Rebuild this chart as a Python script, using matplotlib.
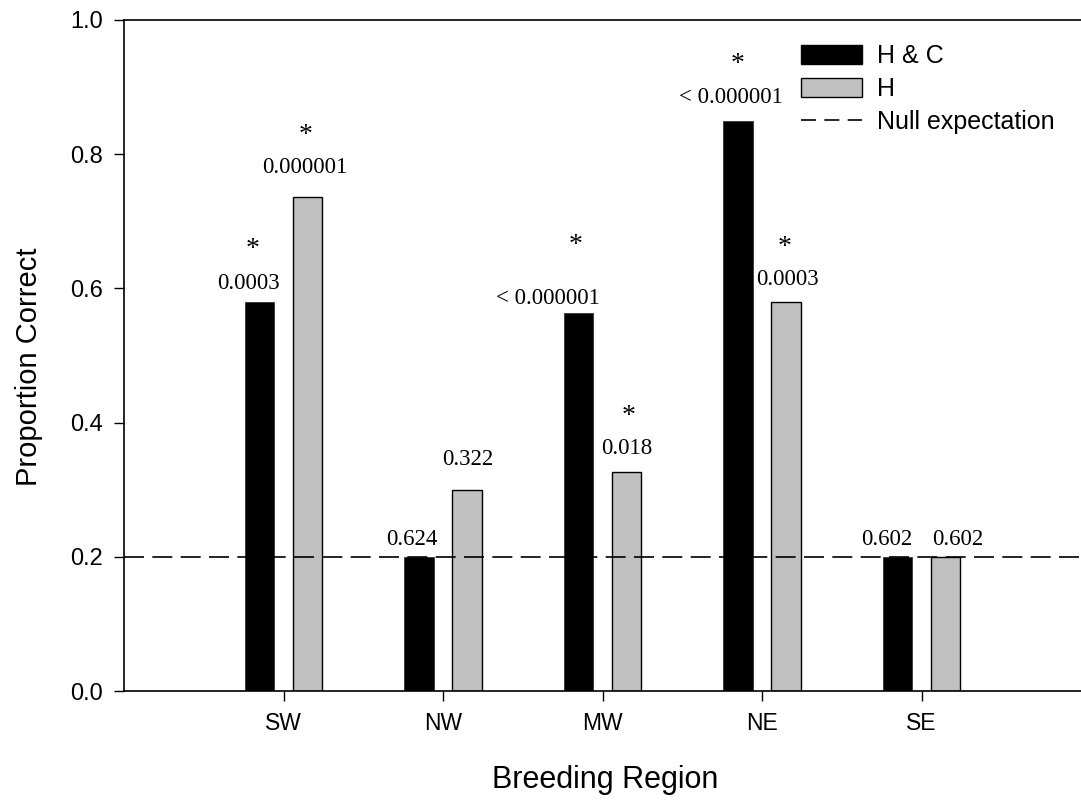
import matplotlib
matplotlib.use("Agg")
import matplotlib.pyplot as plt
import numpy as np
from matplotlib.patches import Patch
from matplotlib.lines import Line2D

regions = ["SW", "NW", "MW", "NE", "SE"]
hc_values = [0.58, 0.20, 0.563, 0.85, 0.20]
h_values = [0.736, 0.30, 0.326, 0.58, 0.20]
hc_pvals = ["0.0003", "0.624", "< 0.000001", "< 0.000001", "0.602"]
h_pvals = ["0.000001", "0.322", "0.018", "0.0003", "0.602"]
hc_signif = [True, False, True, True, False]
h_signif = [True, False, True, True, False]
null_expectation = 0.2

# label / star offsets (pixels) relative to top centre of each bar
hc_label_dx = [-11, -7, -31, -7, -11]
hc_label_dy = [18, 17, 15, 23, 17]
h_label_dx = [-3, 1, 0, 2, 12]
h_label_dy = [30, 30, 24, 22, 17]
hc_star_dx = [-7, 0, -3, 0, 0]
hc_star_dy = [52, 0, 68, 56, 0]
h_star_dx = [-2, 0, 2, -1, 0]
h_star_dy = [62, 0, 56, 54, 0]

fig = plt.figure(figsize=(10.81, 8.02), dpi=100)
W, H = 1081, 802
ax = fig.add_axes([124 / W, 1 - 691 / H, (1081 - 124) / W, (691 - 20) / H])

x = np.arange(len(regions))
off = 0.15
width = 0.185
ax.bar(x - off, hc_values, width, color="black", edgecolor="#333333", linewidth=0.6, zorder=2)
ax.bar(x + off, h_values, width, color="#c0c0c0", edgecolor="black", linewidth=1.0, zorder=2)
ax.axhline(null_expectation, color="black", linewidth=1.2, dashes=(12, 5), zorder=3)

serif = "Liberation Serif"
sans = "Liberation Sans"
for xs, vals, pvs, sigs, dxs, dys, sdx, sdy in [
    (x - off, hc_values, hc_pvals, hc_signif, hc_label_dx, hc_label_dy, hc_star_dx, hc_star_dy),
    (x + off, h_values, h_pvals, h_signif, h_label_dx, h_label_dy, h_star_dx, h_star_dy),
]:
    for i in range(len(regions)):
        ax.annotate(pvs[i], (xs[i], vals[i]), xytext=(dxs[i], dys[i]), textcoords="offset pixels",
                    ha="center", va="center", fontsize=16.5, family=serif)
        if sigs[i]:
            ax.annotate("*", (xs[i], vals[i]), xytext=(sdx[i], sdy[i]), textcoords="offset pixels",
                        ha="center", va="center", fontsize=20, family=serif)

ax.set_xlim(-1, 5)
ax.set_ylim(0, 1.0)
ax.set_xticks(x)
ax.set_xticklabels(regions)
ax.set_yticks([0, 0.2, 0.4, 0.6, 0.8, 1.0])
ax.set_yticklabels(["0.0", "0.2", "0.4", "0.6", "0.8", "1.0"])
ax.tick_params(axis="y", direction="out", length=7, width=1, labelsize=17, pad=8)
ax.tick_params(axis="x", direction="out", length=7, width=1, labelsize=16.5, pad=8)
for lbl in ax.get_xticklabels() + ax.get_yticklabels():
    lbl.set_family(sans)
ax.spines["right"].set_visible(False)
for s in ["left", "bottom", "top"]:
    ax.spines[s].set_linewidth(1.2)

ax.set_ylabel("Proportion Correct", fontsize=21, family=sans)
ax.set_xlabel("Breeding Region", fontsize=22, family=sans)
ax.yaxis.set_label_coords((29 - 124) / 957, (691 - 367) / 671)
ax.yaxis.label.set_va("center")
ax.xaxis.set_label_coords(0.503, (691 - 780) / 671)
ax.xaxis.label.set_va("center")

handles = [Patch(facecolor="black", edgecolor="black"),
           Patch(facecolor="#c0c0c0", edgecolor="black"),
           Line2D([], [], color="black", linewidth=1.2, dashes=(9, 5))]
ax.legend(handles, ["H & C", "H", "Null expectation"], loc="upper left",
          bbox_to_anchor=((801 - 124) / 957, (691 - 44) / 671), frameon=False,
          prop={"family": sans, "size": 18}, handlelength=2.45, handleheight=0.8,
          handletextpad=0.6, labelspacing=0.36, borderpad=0, borderaxespad=0)

fig.savefig("out.png", dpi=100)
